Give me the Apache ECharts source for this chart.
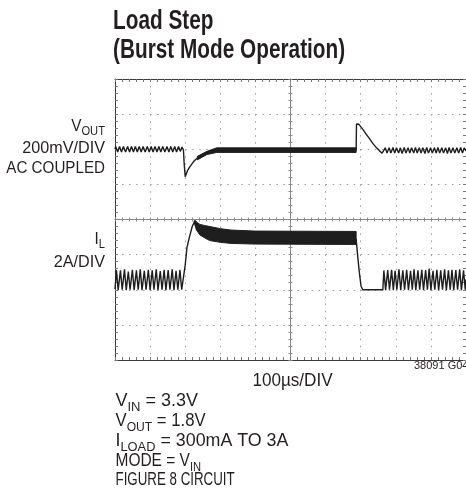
<!DOCTYPE html>
<html><head><meta charset="utf-8">
<script src="https://cdn.jsdelivr.net/npm/echarts@6/dist/echarts.min.js"></script>
<style>html,body{margin:0;padding:0;background:#fff}#c{width:466px;height:498px}</style>
</head><body><div id="c"></div>
<script>
// x: time in µs (100 µs/DIV, 10 divisions); y: screen divisions (0..8)
const xTicks = [0,100,200,300,400,500,600,700,800,900,1000];
const yTicks = [0,1,2,3,4,5,6,7,8];

// VOUT trace (200mV/DIV, AC coupled)
const voutLeft = [[0,6.0],[2,6.08],[7.5,5.92],[13,6.08],[18.5,5.92],[24,6.08],[30,5.92],[36,6.08],[41.5,5.92],[47,6.08],[52.5,5.92],[58,6.08],[63.5,5.92],[69,6.08],[74.5,5.92],[80,6.08],[86,5.92],[92,6.08],[97.5,5.92],[103,6.08],[108.5,5.92],[114,6.08],[119.5,5.92],[125,6.08],[130.5,5.92],[136,6.08],[142,5.92],[148,6.08],[153.5,5.92],[159,6.08],[164.5,5.92],[170,6.08],[175.5,5.92],[181,6.08],[186,5.94],[191,6.06],[195,5.98],[197,5.6],[200,5.22],[207,5.40],[214,5.51],[224,5.65],[233,5.74],[243,5.80],[252,5.84],[262,5.89],[271,5.93],[285,5.96],[294,5.98]];
const voutBandUpper = [[235,5.80],[262,5.94],[290,6.04],[687,6.04]];
const voutBandLower = [[235,5.70],[262,5.85],[290,5.91],[687,5.91]];
const voutRight = [[687,5.97],[688,6.72],[690,6.75],[692,6.68],[695,6.71],[699,6.66],[705,6.58],[715,6.44],[725,6.30],[735,6.16],[745,6.04],[755,5.94],[761,5.89],[764,5.91],[770,6.04],[775,5.89],[781,6.04],[786,5.89],[792,6.05],[797,5.89],[802,6.04],[808,5.89],[813,6.04],[818,5.88],[824,6.05],[829,5.89],[835,6.04],[840,5.89],[845,6.04],[851,5.89],[856,6.05],[861,5.89],[867,6.04],[872,5.89],[877,6.04],[883,5.88],[888,6.05],[893,5.89],[899,6.04],[904,5.89],[910,6.04],[915,5.89],[920,6.05],[925,5.89],[931,6.04],[936,5.89],[942,6.04],[947,5.88],[952,6.05],[957,5.89],[963,6.04],[968,5.89],[974,6.04],[979,5.89],[985,6.05],[990,5.89],[995,6.04],[1000,5.95]];

// IL trace (2A/DIV)
const ilLeft = [[0,2.02],[4,2.56],[9,1.99],[15.5,2.55],[20.5,2.0],[27,2.58],[32,1.99],[38,2.52],[43,2.0],[49.5,2.57],[54.5,1.99],[61,2.55],[66,2.0],[72,2.58],[77,1.99],[83.5,2.54],[88.5,2.0],[95,2.57],[100,1.99],[106,2.55],[111,2.0],[117.5,2.58],[122.5,1.99],[129,2.53],[134,2.0],[140,2.57],[145,1.99],[151.5,2.56],[156.5,2.0],[163,2.58],[168,1.99],[174,2.54],[179,2.0],[185,2.57],[190,2.0],[195,2.05],[200,2.7],[205,3.2],[212,3.5],[220,3.8],[228,3.97],[233,3.9]];
const ilBandUpper = [[226,3.97],[232,3.93],[242,3.86],[255,3.83],[270,3.80],[300,3.74],[330,3.70],[400,3.67],[687,3.66]];
const ilBandLower = [[226,3.90],[232,3.70],[242,3.56],[255,3.48],[270,3.40],[300,3.35],[330,3.32],[400,3.30],[687,3.29]];
const ilRight = [[687,3.45],[691,3.0],[696,2.5],[701,2.1],[706,2.0],[763,2.0],[766,2.55],[771,1.99],[777,2.56],[782,2.0],[788,2.57],[793,1.99],[798,2.54],[803,2.0],[809,2.58],[814,1.99],[820,2.55],[825,2.0],[831,2.57],[836,1.99],[842,2.54],[847,2.0],[852,2.58],[857,1.99],[863,2.55],[868,2.0],[874,2.57],[879,1.99],[885,2.56],[890,2.0],[895,2.6],[900,1.99],[906,2.54],[911,2.0],[917,2.57],[922,1.99],[928,2.55],[933,2.0],[939,2.58],[944,1.99],[950,2.55],[955,2.0],[960,2.57],[965,1.99],[971,2.56],[976,2.0],[982,2.58],[987,1.99],[993,2.55],[998,2.0],[1000,2.3]];

const TRACE = '#1e1e1e';
const FONT = '"Liberation Sans",Arial,sans-serif';
const INK = '#231f20';

function bandSeries(upper, lower) {
  return {
    type: 'custom', xAxisIndex: 0, yAxisIndex: 0, silent: true, clip: true,
    data: [upper[0]],
    renderItem: function (params, api) {
      const pts = upper.map(p => api.coord(p)).concat(lower.slice().reverse().map(p => api.coord(p)));
      return { type: 'polygon', shape: { points: pts }, style: { fill: TRACE, stroke: TRACE, lineWidth: 1 } };
    }
  };
}
function lineSeries(data) {
  return { type: 'line', xAxisIndex: 0, yAxisIndex: 0, data: data, symbol: 'none', silent: true,
    lineStyle: { color: TRACE, width: 1.4 }, animation: false };
}
function label(x, yMid, segs, fs, subFs, drop, align, sx) {
  const text = segs.map(s => '{' + (s[1] ? 's' : 'n') + '|' + s[0] + '}').join('');
  return { type: 'text', x: x, y: yMid + drop + fs / 2, scaleX: sx || 1, silent: true,
    style: { text: text, align: align, verticalAlign: 'bottom', fill: INK,
      rich: {
        n: { fontSize: fs, fontFamily: FONT, fill: INK, padding: [0, 0, drop, 0], lineHeight: fs, verticalAlign: 'bottom' },
        s: { fontSize: subFs, fontFamily: FONT, fill: INK, lineHeight: subFs, verticalAlign: 'bottom' }
      } } };
}

const borderAxisX = (pos, split) => ({
  type: 'value', min: xTicks[0], max: xTicks[xTicks.length - 1], interval: xTicks[1] - xTicks[0], position: pos,
  axisLine: { show: true, onZero: false, lineStyle: { color: '#3a3a3a', width: 1 } },
  axisTick: { show: true, inside: true, length: 3, lineStyle: { color: '#777' } },
  minorTick: { show: true, splitNumber: 5, length: 3, lineStyle: { color: '#777' } },
  axisLabel: { show: false },
  splitLine: { show: split, lineStyle: { color: '#9c9c9c', width: 1, type: [1.5, 5.52] } },
  minorSplitLine: { show: false }
});
const borderAxisY = (pos, split) => ({
  type: 'value', min: yTicks[0], max: yTicks[yTicks.length - 1], interval: 1, position: pos,
  axisLine: { show: true, onZero: false, lineStyle: { color: '#3a3a3a', width: 1 } },
  axisTick: { show: true, inside: true, length: 3, lineStyle: { color: '#777' } },
  minorTick: { show: true, splitNumber: 5, length: 3, lineStyle: { color: '#777' } },
  axisLabel: { show: false },
  splitLine: { show: split, lineStyle: { color: '#9c9c9c', width: 1, type: [1.5, 5.52] } },
  minorSplitLine: { show: false }
});
// centre cross-hair axes (units = 0.2 DIV)
const crossX = (pos) => ({
  type: 'value', min: -25, max: 25, interval: 1, position: pos,
  axisLine: { show: true, onZero: true, onZeroAxisIndex: 2, lineStyle: { color: '#8a8a8a', width: 1 } },
  axisTick: { show: true, inside: true, length: 2, lineStyle: { color: '#8a8a8a' } },
  axisLabel: { show: false }, splitLine: { show: false }
});
const crossY = (pos) => ({
  type: 'value', min: -20, max: 20, interval: 1, position: pos,
  axisLine: { show: true, onZero: true, onZeroAxisIndex: 2, lineStyle: { color: '#8a8a8a', width: 1 } },
  axisTick: { show: true, inside: true, length: 2, lineStyle: { color: '#8a8a8a' } },
  axisLabel: { show: false }, splitLine: { show: false }
});

const chart = echarts.init(document.getElementById('c'), null, { renderer: 'canvas' });
chart.setOption({
  animation: false,
  backgroundColor: '#ffffff',
  grid: { left: 115, top: 79, width: 351, height: 281, show: false },
  xAxis: [borderAxisX('bottom', true), borderAxisX('top', false), crossX('bottom'), crossX('top')],
  yAxis: [borderAxisY('left', true), borderAxisY('right', false), crossY('left'), crossY('right')],
  series: [
    lineSeries(voutLeft), bandSeries(voutBandUpper, voutBandLower), lineSeries(voutRight),
    lineSeries(ilLeft), bandSeries(ilBandUpper, ilBandLower), lineSeries(ilRight)
  ],
  graphic: [
    { type: 'text', x: 113, y: 21.7, scaleX: 0.77, silent: true, style: { text: 'Load Step', fontSize: 27, fontWeight: 'bold', fontFamily: FONT, fill: INK, align: 'left', verticalAlign: 'middle' } },
    { type: 'text', x: 113, y: 50.5, scaleX: 0.77, silent: true, style: { text: '(Burst Mode Operation)', fontSize: 27, fontWeight: 'bold', fontFamily: FONT, fill: INK, align: 'left', verticalAlign: 'middle' } },
    label(105, 127, [['V', 0], ['OUT', 1]], 16.5, 12, 2, 'right', 0.93),
    label(105, 149, [['200mV/DIV', 0]], 16.5, 12, 0, 'right', 0.98),
    label(105, 169, [['AC COUPLED', 0]], 16.5, 12, 0, 'right', 0.92),
    label(105, 240, [['I', 0], ['L', 1]], 16.5, 12, 2, 'right', 0.93),
    label(105, 262.5, [['2A/DIV', 0]], 16.5, 12, 0, 'right', 0.98),
    label(292.5, 381.5, [['100µs/DIV', 0]], 18, 12, 0, 'center', 0.95),
    { type: 'text', x: 414, y: 366, silent: true, style: { text: '38091 G04', fontSize: 11, fontFamily: FONT, fill: INK, align: 'left', verticalAlign: 'middle' } },
    label(115.5, 401.5, [['V', 0], ['IN', 1], [' = 3.3V', 0]], 18, 13, 3, 'left', 1.0),
    label(115.5, 421.5, [['V', 0], ['OUT', 1], [' = 1.8V', 0]], 18, 13, 3, 'left', 0.93),
    label(115.5, 441.5, [['I', 0], ['LOAD', 1], [' = 300mA TO 3A', 0]], 18, 13, 3, 'left', 0.99),
    label(115.5, 461.5, [['MODE = V', 0], ['IN', 1]], 18, 13, 3, 'left', 0.86),
    label(115.5, 480.5, [['FIGURE 8 CIRCUIT', 0]], 18, 13, 0, 'left', 0.74)
  ]
});
</script></body></html>
